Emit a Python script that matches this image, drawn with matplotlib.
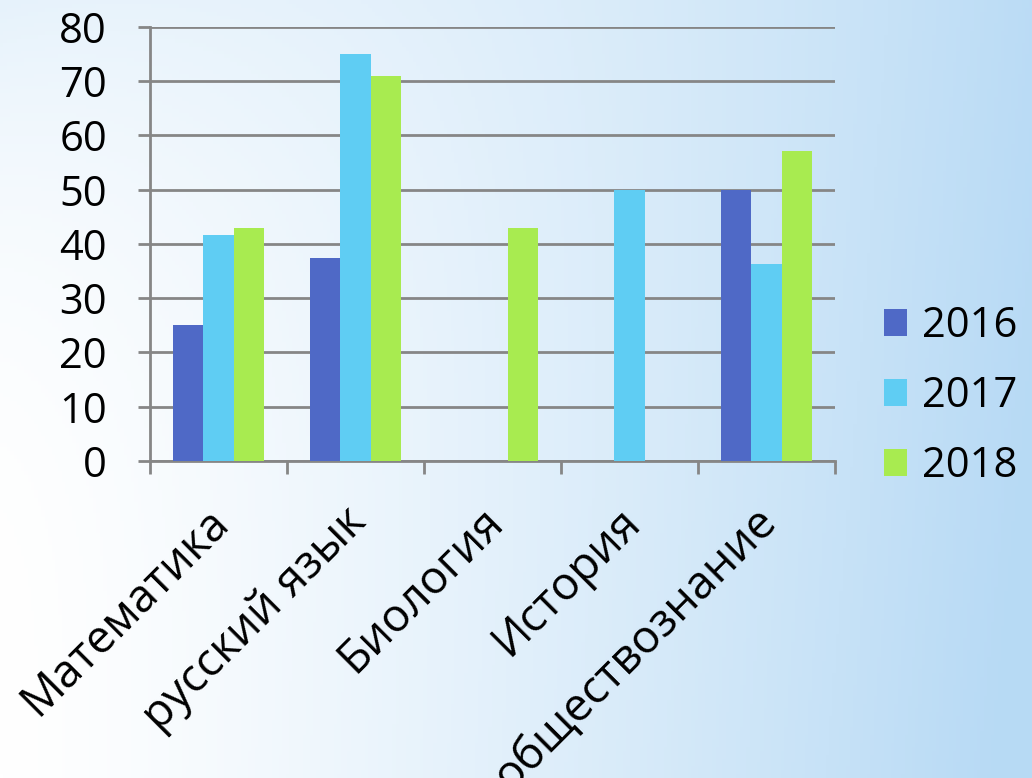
import numpy as np
import matplotlib.pyplot as plt

categories = ['Математика', 'русский язык', 'Биология', 'История', 'обществознание']
years = ['2016', '2017', '2018']
v2016 = [25, 37.5, 0, 0, 50]
v2017 = [41.7, 75, 0, 50, 36.4]
v2018 = [42.9, 71, 42.9, 0, 57.1]
colors = ['#4f69c6', '#5fcdf3', '#a8eb50']

plt.rcParams['font.family'] = ['Open Sans', 'DejaVu Sans']

fig = plt.figure(figsize=(10.32, 7.78), dpi=100)

# background gradient (white on the left, light blue on the right)
bg = fig.add_axes([0, 0, 1, 1], zorder=0)
yy, xx = np.mgrid[0:1:200j, 0:1:300j]  # yy = 0 at top
t = 0.95 * xx ** 1.35 + 0.35 * (1 - yy) ** 3 * (1 - xx) ** 2 + 0.1 * yy * xx
t = np.clip(t, 0, 1)[..., None]
white = np.array([1.0, 1.0, 1.0])
blue = np.array([0.72, 0.855, 0.96])
img = white * (1 - t) + blue * t
bg.imshow(img, aspect='auto', extent=[0, 1, 0, 1])
bg.axis('off')

ax = fig.add_axes([0.1453, 0.4075, 0.6638, 0.5578], zorder=1)
ax.patch.set_alpha(0)

x = np.arange(len(categories))
w = 0.22
for i, (vals, c, lab) in enumerate(zip([v2016, v2017, v2018], colors, years)):
    ax.bar(x + (i - 1) * w, vals, w, color=c, label=lab, zorder=3)

ax.set_ylim(0, 80)
ax.set_xlim(-0.5, len(categories) - 0.5)
ax.set_yticks(range(0, 81, 10))
ax.grid(axis='y', color='#868686', linewidth=2, zorder=1)
ax.set_xticks(np.arange(len(categories) + 1) - 0.5)
ax.set_xticklabels([])
ax.tick_params(axis='x', length=9, width=2, color='#868686')
ax.tick_params(axis='y', length=9, width=2, color='#868686', labelsize=30, pad=22)
for s in ['top', 'right']:
    ax.spines[s].set_visible(False)
for s in ['left', 'bottom']:
    ax.spines[s].set_color('#868686')
    ax.spines[s].set_linewidth(2)

# rotated category names
for xi, name in zip(x, categories):
    ax.text(xi - 0.09, -7, name, rotation=45, ha='right', va='top',
            rotation_mode='anchor', fontsize=33, clip_on=False)

fig.legend(loc='center left', bbox_to_anchor=(0.857, 0.491), frameon=False,
           fontsize=30, handlelength=0.55, handleheight=0.62, handletextpad=0.36,
           labelspacing=0.68, borderpad=0, borderaxespad=0)

fig.savefig('out.png', dpi=100)
